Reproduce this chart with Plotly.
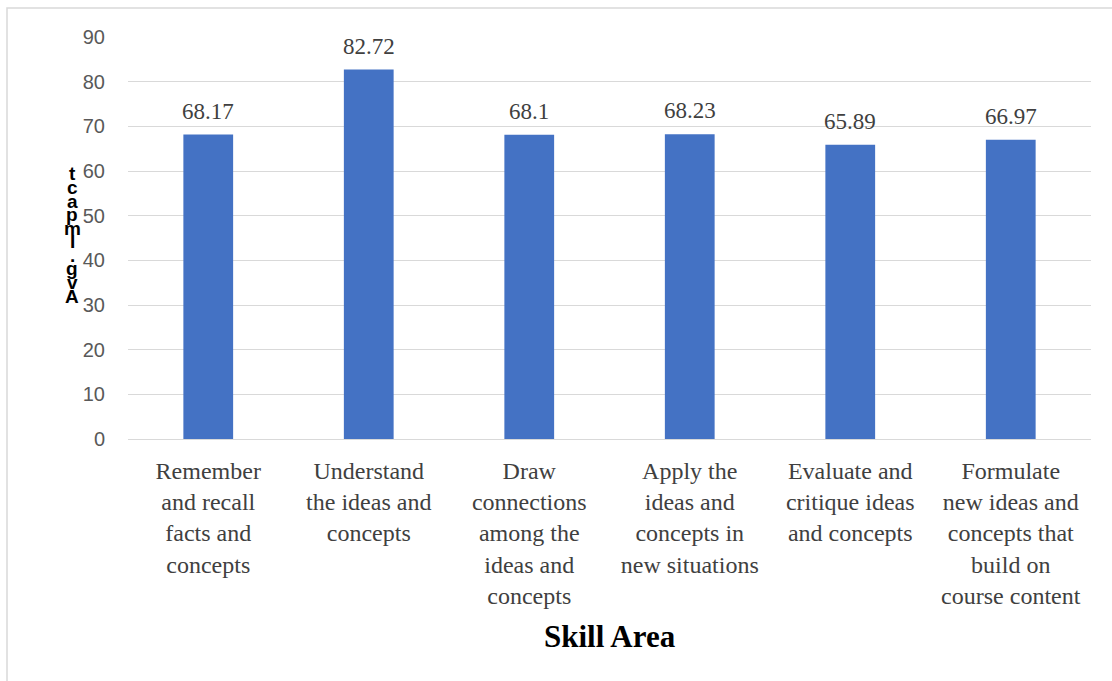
import plotly.graph_objects as go

# Chart data
categories = [
    "Remember<br>and recall<br>facts and<br>concepts",
    "Understand<br>the ideas and<br>concepts",
    "Draw<br>connections<br>among the<br>ideas and<br>concepts",
    "Apply the<br>ideas and<br>concepts in<br>new situations",
    "Evaluate and<br>critique ideas<br>and concepts",
    "Formulate<br>new ideas and<br>concepts that<br>build on<br>course content",
]
scores = [68.17, 82.72, 68.1, 68.23, 65.89, 66.97]
y_ticks = [0, 10, 20, 30, 40, 50, 60, 70, 80, 90]
y_title = "Avg. Impact"
x_title = "Skill Area"

BAR = "#4472C4"
GRID = "#D9D9D9"
SERIF = "Liberation Serif, Times New Roman, serif"
SANS = "Liberation Sans, Arial, sans-serif"

x_idx = list(range(len(categories)))

fig = go.Figure(
    go.Bar(
        x=x_idx,
        y=scores,
        marker=dict(color=BAR, line=dict(width=0)),
        width=0.31,
        hoverinfo="skip",
    )
)

# Value labels above each bar
annotations = []
for i, v in zip(x_idx, scores):
    annotations.append(dict(
        x=i, y=v, xref="x", yref="y", text=f"{v:g}", showarrow=False,
        yanchor="bottom", yshift=9,
        font=dict(family=SERIF, size=23, color="#404040"),
    ))

# Axis title along the left, drawn one stacked character at a time
chars = list(y_title.replace(" ", ""))
top_px, bottom_px = 174, 296
plot_top, plot_h = 37, 402
n = len(chars)
for k, ch in enumerate(chars):
    py = bottom_px - k * (bottom_px - top_px) / (n - 1)
    annotations.append(dict(
        x=-0.058, y=(plot_top + plot_h - py) / plot_h, xref="paper", yref="paper",
        text=f"<b>{ch}</b>", showarrow=False, xanchor="center", yanchor="middle",
        font=dict(family=SANS, size=19, color="#000000"),
    ))

# X axis title
annotations.append(dict(
    x=0.5, y=(plot_top + plot_h - 636) / plot_h, xref="paper", yref="paper",
    text=f"<b>{x_title}</b>", showarrow=False, xanchor="center", yanchor="middle",
    font=dict(family=SERIF, size=31, color="#000000"),
))

fig.update_layout(
    width=1112, height=681,
    margin=dict(l=128, r=21, t=37, b=242),
    paper_bgcolor="white", plot_bgcolor="white",
    showlegend=False,
    annotations=annotations,
    xaxis=dict(
        tickmode="array", tickvals=x_idx, ticktext=categories,
        range=[-0.5, len(categories) - 0.5],
        showgrid=False, zeroline=False, showline=False, ticks="",
        ticklabelstandoff=15,
        tickfont=dict(family=SERIF, size=24, color="#404040"),
        fixedrange=True,
    ),
    yaxis=dict(
        range=[0, 90], tickmode="array", tickvals=y_ticks,
        showgrid=True, gridcolor=GRID, gridwidth=1.3,
        zeroline=True, zerolinecolor=GRID, zerolinewidth=1.3,
        showline=False, ticks="", ticklabelstandoff=22,
        tickfont=dict(family=SANS, size=20, color="#595959"),
        fixedrange=True,
    ),
    shapes=[dict(
        type="rect", xref="paper", yref="paper",
        x0=(7 - 128) / 963, x1=(1130 - 128) / 963,
        y0=-1.0, y1=(plot_top + plot_h - 8) / plot_h,
        line=dict(color="#D9D9D9", width=1.5), fillcolor="rgba(0,0,0,0)",
        layer="below",
    )],
)

fig.write_html("out.html")
